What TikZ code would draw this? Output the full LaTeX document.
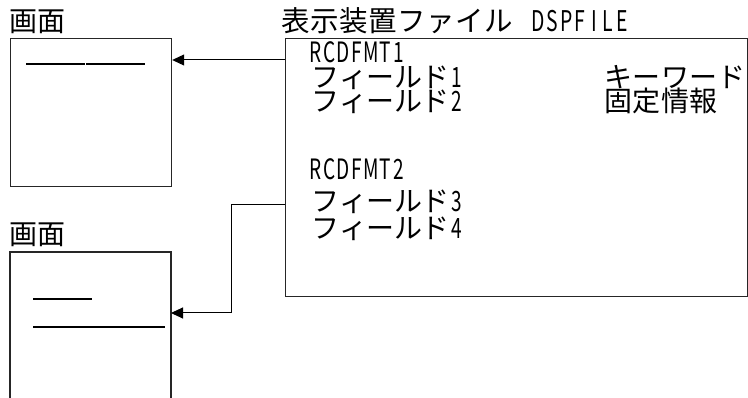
\documentclass[tikz,border=0pt]{standalone}
\usepackage{fontspec}
\setmainfont{Noto Sans CJK JP}
\usetikzlibrary{arrows.meta}
\makeatletter
\newcommand{\monotext}[2][14pt]{\@tfor\mt@c:=#2\do{\makebox[#1]{\scalebox{0.68}[1.0]{\mt@c}}}}
\newcommand{\kanatext}[2][28pt]{\@tfor\kt@c:=#2\do{\makebox[#1]{\kt@c}}}
\makeatother
\tikzset{
  frame/.style={draw=black!85, line width=1.2pt},
  mark line/.style={draw=black, line width=2pt},
  conn/.style={draw=black, line width=1pt, -{Triangle[length=12pt,width=11pt]}},
  lbl/.style={anchor=west, inner sep=0pt, text height=21pt, text depth=0pt, font=\fontsize{28}{28}\selectfont},
  ttl/.style={anchor=west, inner sep=0pt, text height=21pt, text depth=0pt, font=\fontsize{28.5}{29}\selectfont},
}
\begin{document}
\begin{tikzpicture}[x=1pt,y=-1pt]
\useasboundingbox (0,0) rectangle (748,398);
% screens
\node[lbl] (s1label) at (9,21) {\kanatext{画面}};
\node[frame, minimum width=161pt, minimum height=148pt, anchor=north west, inner sep=0pt] (s1) at (10,38) {};
\draw[mark line] (26,64) -- (85,64);
\draw[mark line] (86,64) -- (145,64);
\node[lbl] (s2label) at (9,234) {\kanatext{画面}};
\coordinate (s2bl) at (10,398);
\coordinate (s2tl) at (10,252);
\coordinate (s2tr) at (171,252);
\coordinate (s2br) at (171,398);
\draw[frame] (s2bl) -- (s2tl) -- (s2tr) -- (s2br);
\draw[mark line] (33,299) -- (92,299);
\draw[mark line] (33,327) -- (165,327);
% display file
\node[ttl] (title) at (281,21) {\kanatext[29pt]{表示装置ファイル}\makebox[18pt]{}\monotext{DSPFILE}};
\node[frame, minimum width=462pt, minimum height=258pt, anchor=north west, inner sep=0pt] (df) at (285,38) {};
\node[lbl] (r1) at (308,52) {\monotext{RCDFMT1}};
\node[lbl] (f1) at (312,77) {\kanatext[27.5pt]{フィールド}\monotext{1}};
\node[lbl] (f2) at (312,101) {\kanatext[27.5pt]{フィールド}\monotext{2}};
\node[lbl] (kw) at (604,77) {\kanatext[28.4pt]{キーワード}};
\node[lbl] (ci) at (604,101) {\kanatext[28.4pt]{固定情報}};
\node[lbl] (r2) at (308,169) {\monotext{RCDFMT2}};
\node[lbl] (f3) at (312,201) {\kanatext[27.5pt]{フィールド}\monotext{3}};
\node[lbl] (f4) at (312,228) {\kanatext[27.5pt]{フィールド}\monotext{4}};
% connectors
\draw[conn] (df.west |- 0,60) -- (s1.east |- 0,60);
\coordinate (b1) at (231,205);
\coordinate (b2) at (231,313);
\draw[conn] (df.west |- b1) -- (b1) -- (b2) -- (s2tr |- b2);
\end{tikzpicture}
\end{document}
